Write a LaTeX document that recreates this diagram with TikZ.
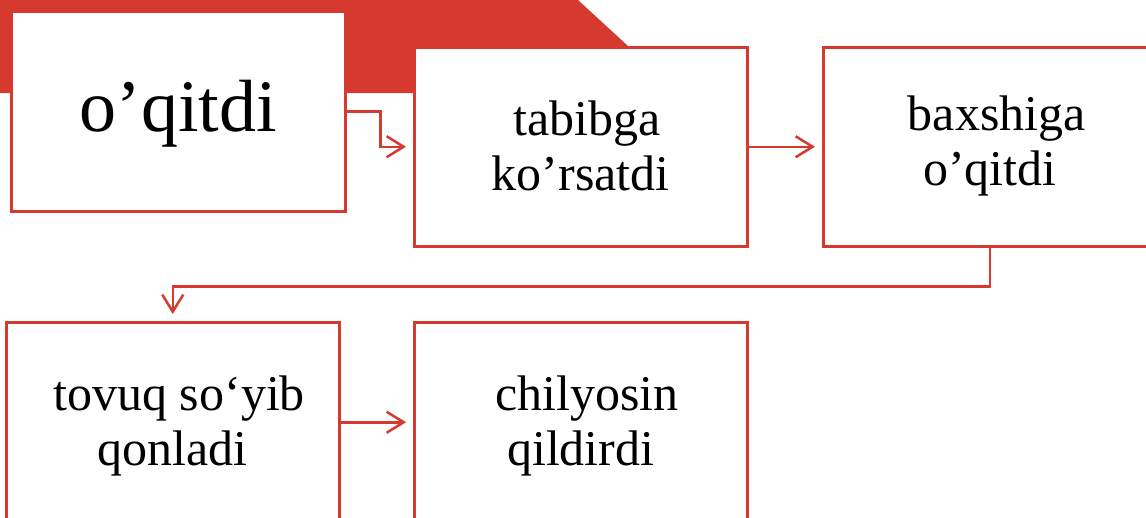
\documentclass[tikz,border=0pt]{standalone}
\usepackage{fontspec}
\setmainfont{Liberation Serif}
\usetikzlibrary{arrows.meta}
\definecolor{ared}{HTML}{D63A2E}
\begin{document}
\begin{tikzpicture}[x=1pt,y=-1pt,
  box/.style={draw=ared,line width=2.5pt,fill=white,minimum width=333pt,minimum height=199pt,inner sep=0pt,anchor=north west},
  lbl/.style={align=center,inner sep=0pt,font=\fontsize{50}{55}\selectfont},
  conn/.style={draw=ared,line width=2.5pt,-{Straight Barb[length=17pt,width=21pt,line width=2.5pt]},shorten >=7pt}]
\useasboundingbox (0,0) rectangle (1146,517);
\clip (0,0) rectangle (1146,517);
\fill[ared] (0,0) -- (578,0) -- (628,46) -- (628,93) -- (0,93) -- cycle;
\node[box,minimum width=334pt,minimum height=200pt] (o) at (10,10) {};
\node[font=\fontsize{74}{80}\selectfont,inner sep=0pt] (ol) at ([yshift=-2pt]o.center) {o’qitdi};
\node[box] (t) at (413,46) {};
\node[lbl] (tl) at ([yshift=1pt]t.center) {\hspace*{12pt}tabibga\\ko’rsatdi};
\node[box] (b) at (822,46) {};
\node[lbl] (bl) at ([yshift=1pt]b.center) {\hspace*{14pt}baxshiga\\o’qitdi};
\node[box,minimum height=200pt] (v) at (5,321) {};
\node[lbl] (vl) at ([yshift=-4pt]v.center) {\hspace*{13pt}tovuq so‘yib\\qonladi};
\node[box,minimum height=200pt] (c) at (413,321) {};
\node[lbl] (cl) at ([yshift=-4pt]c.center) {\hspace*{12pt}chilyosin\\qildirdi};
\draw[conn] (o.east) -- ++(34,0) |- (t.west);
\draw[conn] (t.east) -- (b.west);
\draw[conn] (b.south) -- ++(0,39) -| (v.north);
\draw[conn] (v.east) -- (c.west);
\end{tikzpicture}
\end{document}
